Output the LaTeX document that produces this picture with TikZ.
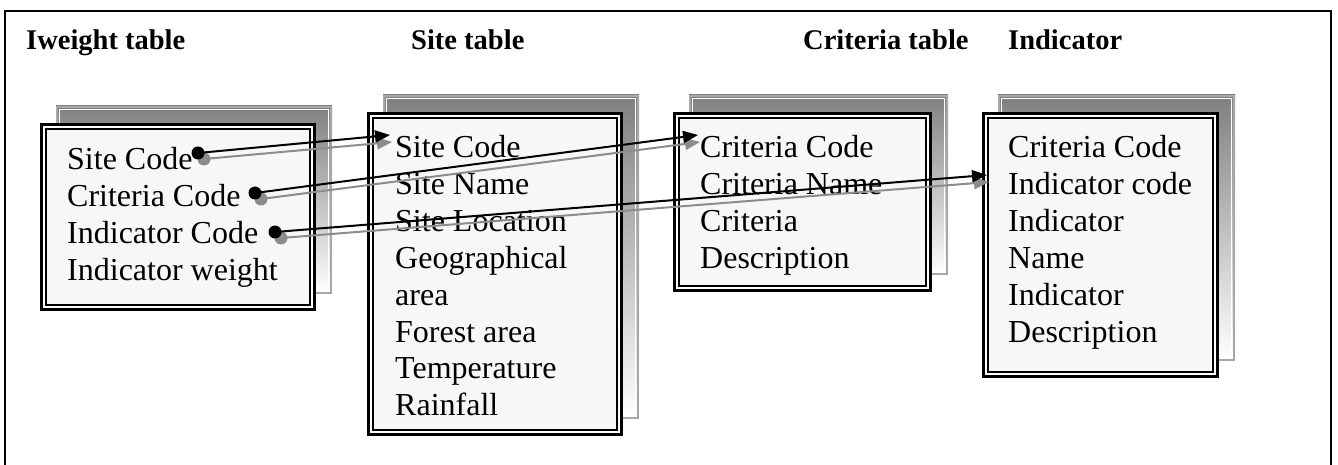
\documentclass[tikz,border=0pt]{standalone}
\usepackage{fontspec}
\setmainfont{Liberation Serif}
\usetikzlibrary{arrows.meta}
\definecolor{shade}{HTML}{808080}
\definecolor{rim}{HTML}{A8A8A8}
\definecolor{paper}{HTML}{F7F7F7}
\definecolor{linkshadow}{HTML}{8C8C8C}

% a table card: offset grey back card, then a double-ruled front card
\newcommand\tablecard[4]{%
  \fill[shade] ({#1+16},{#2-17}) rectangle ({#3+16},{#4-17});
  \draw[rim,line width=1.6] ({#1+16.8},{#2-16.2}) rectangle ({#3+15.2},{#4-17.8});
  \draw[white,line width=0.8] ({#1+19.5},{#2-13.5}) rectangle ({#3+12.5},{#4-20.5});
  \fill[white] (#1,#2) rectangle (#3,#4);
  \fill[paper] ({#1+6},{#2+6}) rectangle ({#3-6},{#4-6});
  \draw[line width=3] ({#1+1.5},{#2+1.5}) rectangle ({#3-1.5},{#4-1.5});
  \draw[line width=1.8] ({#1+6},{#2+6}) rectangle ({#3-6},{#4-6});
}

\tikzset{
  field/.style={font=\fontsize{32}{36.8}\selectfont, anchor=base west, inner sep=0pt},
  title/.style={font=\fontsize{28.5}{32}\selectfont\bfseries, anchor=base west, inner sep=0pt},
  link/.style={line width=2, -{Triangle[length=15,width=12]}},
  linkdot/.style={fill, radius=6.5},
}

\begin{document}
\begin{tikzpicture}[x=1pt,y=-1pt]
\useasboundingbox (0,0) rectangle (1338,465);

% outer frame
\draw[line width=2] (5,470) -- (5,11) -- (1331,11) -- (1331,470);

% headings
\node[title] (t1) at (26,50) {Iweight table};
\node[title] (t2) at (411,50) {Site table};
\node[title] (t3) at (803,50) {Criteria table};
\node[title] (t4) at (1008,50) {Indicator};

% cards
\tablecard{40}{123}{316}{311}
\tablecard{367}{112}{623}{436}
\tablecard{673}{112}{932}{292}
\tablecard{982}{112}{1219}{378}

% Iweight table fields
\foreach \txt [count=\i] in {Site Code, Criteria Code, Indicator Code, Indicator weight}
  \node[field] (w\i) at (67,{170+36.7*(\i-1)}) {\txt};

% Site table fields
\foreach \txt [count=\i] in {Site Code, Site Name, Site Location, Geographical, area, Forest area, Temperature, Rainfall}
  \node[field] (s\i) at (395,{158+36.8*(\i-1)}) {\txt};

% Criteria table fields
\foreach \txt [count=\i] in {Criteria Code, Criteria Name, Criteria, Description}
  \node[field] (c\i) at (700,{158+36.8*(\i-1)}) {\txt};

% Indicator fields
\foreach \txt [count=\i] in {Criteria Code, Indicator code, Indicator, Name, Indicator, Description}
  \node[field] (i\i) at (1008,{158+36.8*(\i-1)}) {\txt};

% link end points
\coordinate (a1) at (198,153);
\coordinate (b1) at (390,135);
\coordinate (a2) at (255,193);
\coordinate (b2) at (698,135);
\coordinate (a3) at (275,232);
\coordinate (b3) at (987,175);

% grey drop shadows of the links
\foreach \k in {1,2,3} {
  \fill[linkshadow] ([shift={(6,6)}]a\k) circle[radius=6.5];
  \draw[linkshadow,link] ([shift={(6,6)}]a\k) -- ([shift={(2,7)}]b\k);
}
% links
\foreach \k in {1,2,3} {
  \fill (a\k) circle[radius=6.5];
  \draw[link] (a\k) -- (b\k);
}
\end{tikzpicture}
\end{document}
